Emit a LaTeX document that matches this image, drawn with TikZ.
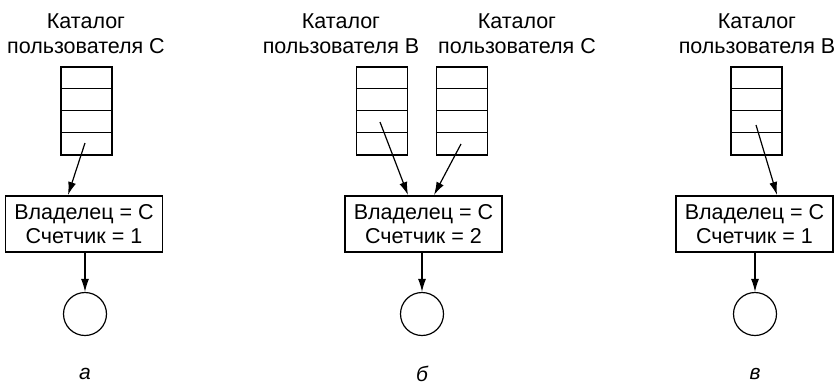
\documentclass[tikz,border=0pt]{standalone}
\usepackage{fontspec}
\setmainfont{Liberation Sans}
\usetikzlibrary{arrows.meta}
\begin{document}
\begin{tikzpicture}[x=1pt,y=-1pt,line width=1.2pt,
  every node/.style={font=\fontsize{21.5}{25}\selectfont},
  title/.style={align=center,inner sep=0pt},
  dirbox/.style={draw,rectangle,minimum width=51pt,minimum height=88pt,inner sep=0pt},
  ownbox/.style={draw,rectangle,minimum width=157pt,minimum height=56pt,inner sep=0pt,align=center,font=\fontsize{21.5}{24}\selectfont},
  filec/.style={draw,circle,minimum size=43pt,inner sep=0pt},
  lab/.style={font=\fontsize{21}{22}\selectfont\itshape,inner sep=0pt},
  arr/.style={-{Latex[length=13pt,width=8pt]}}]
\useasboundingbox (0,0) rectangle (834,386);
% panel a
\node[title] (ta) at (86,34) {Каталог\\пользователя C};
\node[dirbox] (da) at (86.5,111) {};
\foreach \yy in {89,111,133} \draw ([yshift=-(\yy-67)*1pt]da.north west) -- ([yshift=-(\yy-67)*1pt]da.north east);
\coordinate (sa) at (85,143);
\node[ownbox] (oa) at (84,224) {Владелец = C\\Счетчик = 1};
\node[filec] (ca) at (85,314) {};
\draw[arr] (sa) -- (68,195);
\draw[arr] (oa.south -| ca) -- (ca.north);
\node[lab] (la) at (85,374) {а};
% panel b
\node[title] (tb1) at (341,34) {Каталог\\пользователя B};
\node[title] (tb2) at (517,34) {Каталог\\пользователя C};
\node[dirbox] (db1) at (382,111) {};
\node[dirbox] (db2) at (462,111) {};
\foreach \yy in {89,111,133} {
  \draw ([yshift=-(\yy-67)*1pt]db1.north west) -- ([yshift=-(\yy-67)*1pt]db1.north east);
  \draw ([yshift=-(\yy-67)*1pt]db2.north west) -- ([yshift=-(\yy-67)*1pt]db2.north east);
}
\coordinate (sb1) at (380,122);
\coordinate (sb2) at (461,144);
\node[ownbox] (ob) at (423.5,224) {Владелец = C\\Счетчик = 2};
\node[filec] (cb) at (422,314) {};
\draw[arr] (sb1) -- (408,195);
\draw[arr] (sb2) -- (434,195);
\draw[arr] (ob.south -| cb) -- (cb.north);
\node[lab] (lb) at (422,374) {б};
% panel c
\node[title] (tc) at (757,34) {Каталог\\пользователя B};
\node[dirbox] (dc) at (756.5,111) {};
\foreach \yy in {89,111,133} \draw ([yshift=-(\yy-67)*1pt]dc.north west) -- ([yshift=-(\yy-67)*1pt]dc.north east);
\coordinate (sc) at (756,125);
\node[ownbox] (oc) at (754.5,224) {Владелец = C\\Счетчик = 1};
\node[filec] (cc) at (755,314) {};
\draw[arr] (sc) -- (777,195);
\draw[arr] (oc.south -| cc) -- (cc.north);
\node[lab] (lc) at (755,374) {в};
\end{tikzpicture}
\end{document}
